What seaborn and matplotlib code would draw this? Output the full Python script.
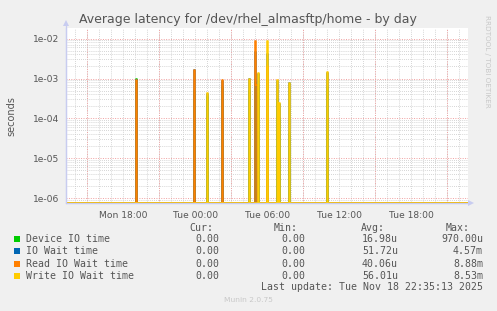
import numpy as np
import pandas as pd
import matplotlib
matplotlib.use("Agg")
import matplotlib.pyplot as plt
import seaborn as sns

# ---------------- data ----------------
series_names = ["Device IO time", "IO Wait time", "Read IO Wait time", "Write IO Wait time"]
series_colors = ["#00CC00", "#0066B3", "#FF8000", "#FFCC00"]

device_times = ["2025-11-17 19:05", "2025-11-17 23:55", "2025-11-18 01:00", "2025-11-18 02:15",
                "2025-11-18 04:30", "2025-11-18 05:00", "2025-11-18 05:15", "2025-11-18 06:00",
                "2025-11-18 06:50", "2025-11-18 07:00", "2025-11-18 07:50", "2025-11-18 11:00"]
device_vals = [9.7e-4, 5e-4, 3.5e-4, 6e-4, 5e-4, 8e-4, 7e-4, 9e-4, 3e-4, 1e-4, 4e-5, 6e-4]

iowait_times = ["2025-11-17 19:05", "2025-11-17 23:55", "2025-11-18 01:00", "2025-11-18 02:15",
                "2025-11-18 04:30", "2025-11-18 05:00", "2025-11-18 05:05", "2025-11-18 05:15",
                "2025-11-18 06:00", "2025-11-18 06:50", "2025-11-18 07:00", "2025-11-18 07:50",
                "2025-11-18 11:00"]
iowait_vals = [9e-4, 1.6e-3, 4e-4, 8.5e-4, 9.5e-4, 4.57e-3, 6e-4, 1.3e-3, 4.2e-3, 8.5e-4,
               2.3e-4, 7.5e-4, 1.4e-3]

read_times = ["2025-11-17 19:05", "2025-11-17 23:55", "2025-11-18 02:15", "2025-11-18 05:00",
              "2025-11-18 05:05", "2025-11-18 06:00"]
read_vals = [9.4e-4, 1.65e-3, 9e-4, 8.88e-3, 6.7e-4, 2e-3]

write_times = ["2025-11-18 01:00", "2025-11-18 04:30", "2025-11-18 05:15", "2025-11-18 06:00",
               "2025-11-18 06:50", "2025-11-18 07:00", "2025-11-18 07:50", "2025-11-18 11:00"]
write_vals = [4.3e-4, 9.8e-4, 1.38e-3, 8.53e-3, 9e-4, 2.4e-4, 7.8e-4, 1.44e-3]

cur_vals = ["0.00", "0.00", "0.00", "0.00"]
min_vals = ["0.00", "0.00", "0.00", "0.00"]
avg_vals = ["16.98u", "51.72u", "40.06u", "56.01u"]
max_vals = ["970.00u", "4.57m", "8.88m", "8.53m"]

x_tick_times = ["2025-11-17 18:00", "2025-11-18 00:00", "2025-11-18 06:00",
                "2025-11-18 12:00", "2025-11-18 18:00"]
x_tick_labels = ["Mon 18:00", "Tue 00:00", "Tue 06:00", "Tue 12:00", "Tue 18:00"]
y_ticks = [1e-6, 1e-5, 1e-4, 1e-3, 1e-2]
y_tick_labels = ["1e-06", "1e-05", "1e-04", "1e-03", "1e-02"]

title = "Average latency for /dev/rhel_almasftp/home - by day"
last_update = "Last update: Tue Nov 18 22:35:13 2025"

# ---------------- build time series ----------------
t_start = pd.Timestamp("2025-11-17 13:10")
t_end = pd.Timestamp("2025-11-18 22:45")
grid = pd.date_range(t_start, t_end, freq="5min")

frames = []
for name, times, vals in zip(series_names,
                             [device_times, iowait_times, read_times, write_times],
                             [device_vals, iowait_vals, read_vals, write_vals]):
    s = pd.Series(0.0, index=grid)
    s.loc[pd.to_datetime(times)] = vals
    frames.append(pd.DataFrame({"time": grid, "value": s.values, "series": name}))
df = pd.concat(frames, ignore_index=True)

y_lo, y_hi = 7.63e-7, 1.84e-2
df["plot_value"] = df["value"].clip(lower=y_lo)

# ---------------- figure ----------------
W, H = 497, 311
sns.set_style("white")
plt.rcParams["font.family"] = ["DejaVu Sans"]
fig = plt.figure(figsize=(W / 100, H / 100), dpi=100, facecolor="#F0F0F0")
L, R, T, B = 66, 468, 28, 203
ax = fig.add_axes([L / W, 1 - B / H, (R - L) / W, (B - T) / H])
ax.set_facecolor("white")

ax.set_yscale("log")
ax.set_ylim(y_lo, y_hi)
x0 = pd.Timestamp("2025-11-17 13:13:30")
x1 = pd.Timestamp("2025-11-18 22:45")
ax.set_xlim(x0, x1)

# grid
minor_grid = dict(color="#C8C8C8", lw=0.6, ls=(0, (1, 1.5)))
major_grid = dict(color="#F0A0A0", lw=0.7, ls=(0, (1, 1.5)))
for h in pd.date_range("2025-11-17 14:00", "2025-11-18 22:00", freq="1h"):
    ax.axvline(h, zorder=0, **minor_grid)
for h in pd.date_range("2025-11-17 15:00", "2025-11-18 22:00", freq="6h"):
    ax.axvline(h, zorder=0.5, **major_grid)
ax.yaxis.set_minor_locator(matplotlib.ticker.LogLocator(base=10, subs=np.arange(2, 10)))
ax.grid(True, which="minor", axis="y", **minor_grid)
ax.grid(True, which="major", axis="y", **major_grid)
ax.set_axisbelow(True)

sns.lineplot(data=df, x="time", y="plot_value", hue="series", hue_order=series_names,
             palette=series_colors, estimator=None, lw=1.1, legend=False, ax=ax, zorder=3,
             drawstyle="steps-mid")

ax.set_xticks(pd.to_datetime(x_tick_times))
ax.set_xticklabels(x_tick_labels)
ax.set_yticks(y_ticks)
ax.set_yticklabels(y_tick_labels)
ax.tick_params(axis="both", which="both", length=0, labelsize=6.6, labelcolor="#555555")
ax.tick_params(axis="x", pad=6)
ax.tick_params(axis="y", pad=5)
ax.set_xlabel("")
ax.set_ylabel("")

for sp in ["top", "right"]:
    ax.spines[sp].set_visible(False)
for sp in ["left", "bottom"]:
    ax.spines[sp].set_color("#C8CCF0")
    ax.spines[sp].set_linewidth(0.9)

# axis arrows
axis_col = "#C8CCF0"
fig.add_artist(plt.Line2D([L / W, L / W], [1 - B / H, 1 - 24 / H], color=axis_col, lw=0.9))
fig.add_artist(plt.Line2D([L / W, 470 / W], [1 - B / H, 1 - B / H], color=axis_col, lw=0.9))
fig.add_artist(plt.Line2D([L / W], [1 - 23 / H], marker="^", ms=5, color=axis_col, mew=0))
fig.add_artist(plt.Line2D([471 / W], [1 - B / H], marker=">", ms=5, color=axis_col, mew=0))

# texts
def px(x, y):
    return x / W, 1 - y / H

fig.text(*px(248, 19), title, ha="center", va="center", fontsize=9.0, color="#555555")
fig.text(*px(11, 116), "seconds", ha="center", va="center", rotation=90, fontsize=7.0,
         color="#555555")
fig.text(*px(487, 15), "RRDTOOL / TOBI OETIKER", ha="center", va="top", rotation=270,
         fontsize=5.2, color="#C8C8C8")

mono = "DejaVu Sans Mono"
fs = 7.1
col_txt = "#555555"
row_y = [239.3, 251.3, 263.7, 275.7]
fig.text(*px(213, 228.3), "Cur:", ha="right", va="center", fontsize=fs, family=mono, color=col_txt)
fig.text(*px(298, 228.3), "Min:", ha="right", va="center", fontsize=fs, family=mono, color=col_txt)
fig.text(*px(385, 228.3), "Avg:", ha="right", va="center", fontsize=fs, family=mono, color=col_txt)
fig.text(*px(470, 228.3), "Max:", ha="right", va="center", fontsize=fs, family=mono, color=col_txt)
for i, name in enumerate(series_names):
    y = row_y[i]
    fig.patches.append(plt.Rectangle((14 / W, 1 - (y + 3) / H), 6 / W, 6 / H,
                                     transform=fig.transFigure, color=series_colors[i], lw=0))
    fig.text(*px(26, y), name, ha="left", va="center", fontsize=fs, family=mono, color=col_txt)
    fig.text(*px(219, y), cur_vals[i], ha="right", va="center", fontsize=fs, family=mono, color=col_txt)
    fig.text(*px(305, y), min_vals[i], ha="right", va="center", fontsize=fs, family=mono, color=col_txt)
    fig.text(*px(398, y), avg_vals[i], ha="right", va="center", fontsize=fs, family=mono, color=col_txt)
    fig.text(*px(483, y), max_vals[i], ha="right", va="center", fontsize=fs, family=mono, color=col_txt)
fig.text(*px(483, 287.3), last_update, ha="right", va="center", fontsize=fs, family=mono,
         color=col_txt)
fig.text(*px(248, 300.5), "Munin 2.0.75", ha="center", va="center", fontsize=5.4,
         color="#C8C8C8")

fig.savefig("out.png", dpi=100, facecolor=fig.get_facecolor())
